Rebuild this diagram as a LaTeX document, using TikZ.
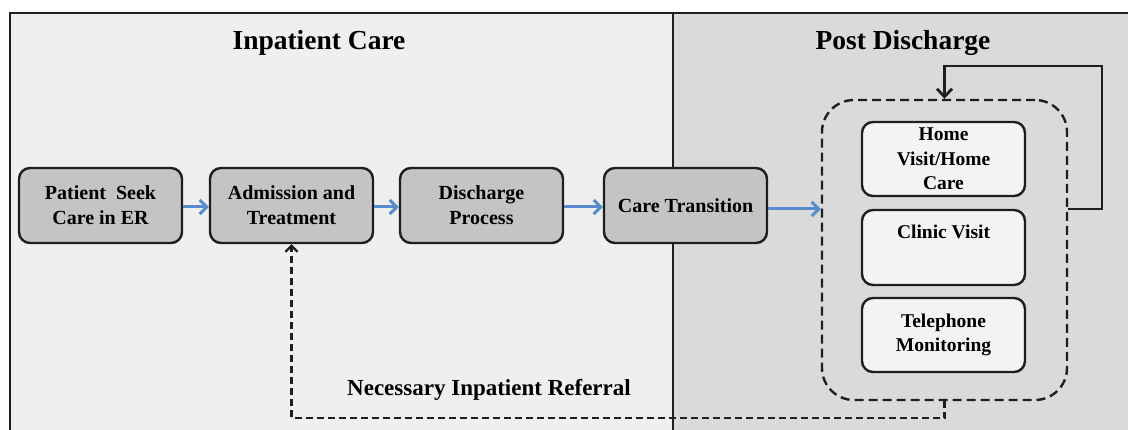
\documentclass[tikz,border=0pt]{standalone}
\usepackage{fontspec}
\setmainfont{Liberation Serif}
\usetikzlibrary{arrows.meta,positioning}
\definecolor{leftbg}{RGB}{239,239,239}
\definecolor{rightbg}{RGB}{218,218,218}
\definecolor{procfill}{RGB}{196,196,196}
\definecolor{subfill}{RGB}{243,243,243}
\definecolor{flowblue}{RGB}{88,140,206}
\definecolor{edge}{RGB}{30,30,30}
\tikzset{
  proc/.style={draw=edge, line width=2.4pt, rounded corners=11pt, fill=procfill,
    minimum width=163pt, minimum height=75pt, align=center, inner sep=2pt,
    font=\bfseries\fontsize{20}{25}\selectfont},
  sub/.style={draw=edge, line width=2.4pt, rounded corners=11pt, fill=subfill,
    minimum width=163pt, minimum height=74pt, align=center, inner sep=1pt,
    font=\bfseries\fontsize{19.5}{24.5}\selectfont},
  grp/.style={draw=edge, line width=2.4pt, dash pattern=on 9pt off 5pt, rounded corners=32pt,
    minimum width=245pt, minimum height=300pt},
  flow/.style={draw=flowblue, line width=3pt, -{Straight Barb[length=7pt,width=14pt,line width=3pt]}},
  fb/.style={draw=edge, line width=2.8pt, -{Straight Barb[length=8pt,width=15pt,line width=2.8pt]}},
  ref/.style={draw=edge, line width=2.4pt, dash pattern=on 7pt off 4pt,
    -{Straight Barb[length=6pt,width=12pt,line width=2.2pt]}},
  title/.style={font=\bfseries\fontsize{27.5}{31}\selectfont},
  lbl/.style={font=\bfseries\fontsize{23}{27}\selectfont}
}
\begin{document}
\begin{tikzpicture}[x=1pt,y=-1pt]
\useasboundingbox (0,0) rectangle (1128,430);
\clip (0,0) rectangle (1128,430);
\fill[white] (0,0) rectangle (1128,430);
% panels
\fill[leftbg] (10,13) rectangle (673,440);
\fill[rightbg] (673,13) rectangle (1140,440);
\draw[edge, line width=2pt] (10,440) -- (10,13) -- (1140,13);
\draw[edge, line width=2pt] (673,13) -- (673,440);
% titles
\node[title] (t1) at (319,43) {Inpatient Care};
\node[title] (t2) at (903,43) {Post Discharge};
% process boxes
\node[proc] (er)  at (100.5,205.5) {Patient~~Seek\\Care in ER};
\node[proc] (adm) at (291.5,205.5) {Admission and\\Treatment};
\node[proc] (dis) at (481.5,205.5) {Discharge\\Process};
\node[proc] (ct)  at (685.5,205.5) {Care Transition};
% post-discharge group
\node[grp] (grp) at (944.5,250) {};
\node[sub] (home) at (943.5,159) {Home\\Visit/Home\\Care};
\node[sub, minimum height=75pt] (clin) at (943.5,247.5) {Clinic Visit\\\strut};
\node[sub] (tel) at (943.5,335) {Telephone\\Monitoring};
% flow arrows
\draw[flow] ([yshift=-1.5pt]er.east) -- ([yshift=-1.5pt]adm.west);
\draw[flow] ([yshift=-1.5pt]adm.east) -- ([yshift=-1.5pt]dis.west);
\draw[flow] ([yshift=-1.5pt]dis.east) -- ([yshift=-1.5pt]ct.west);
\draw[flow] ([yshift=-3.5pt]ct.east) -- ([yshift=-3.5pt]grp.west |- ct.east);
% loop back
\coordinate (loopc) at (1102,66);
\draw[fb] ([yshift=-3.5pt]grp.east |- ct.east) -| (loopc) -| (grp.north);
% referral
\draw[ref] (grp.south) -- ++(0,17) -| (adm.south);
\node[lbl] (reflbl) at (489,390) {Necessary Inpatient Referral};
\end{tikzpicture}
\end{document}
